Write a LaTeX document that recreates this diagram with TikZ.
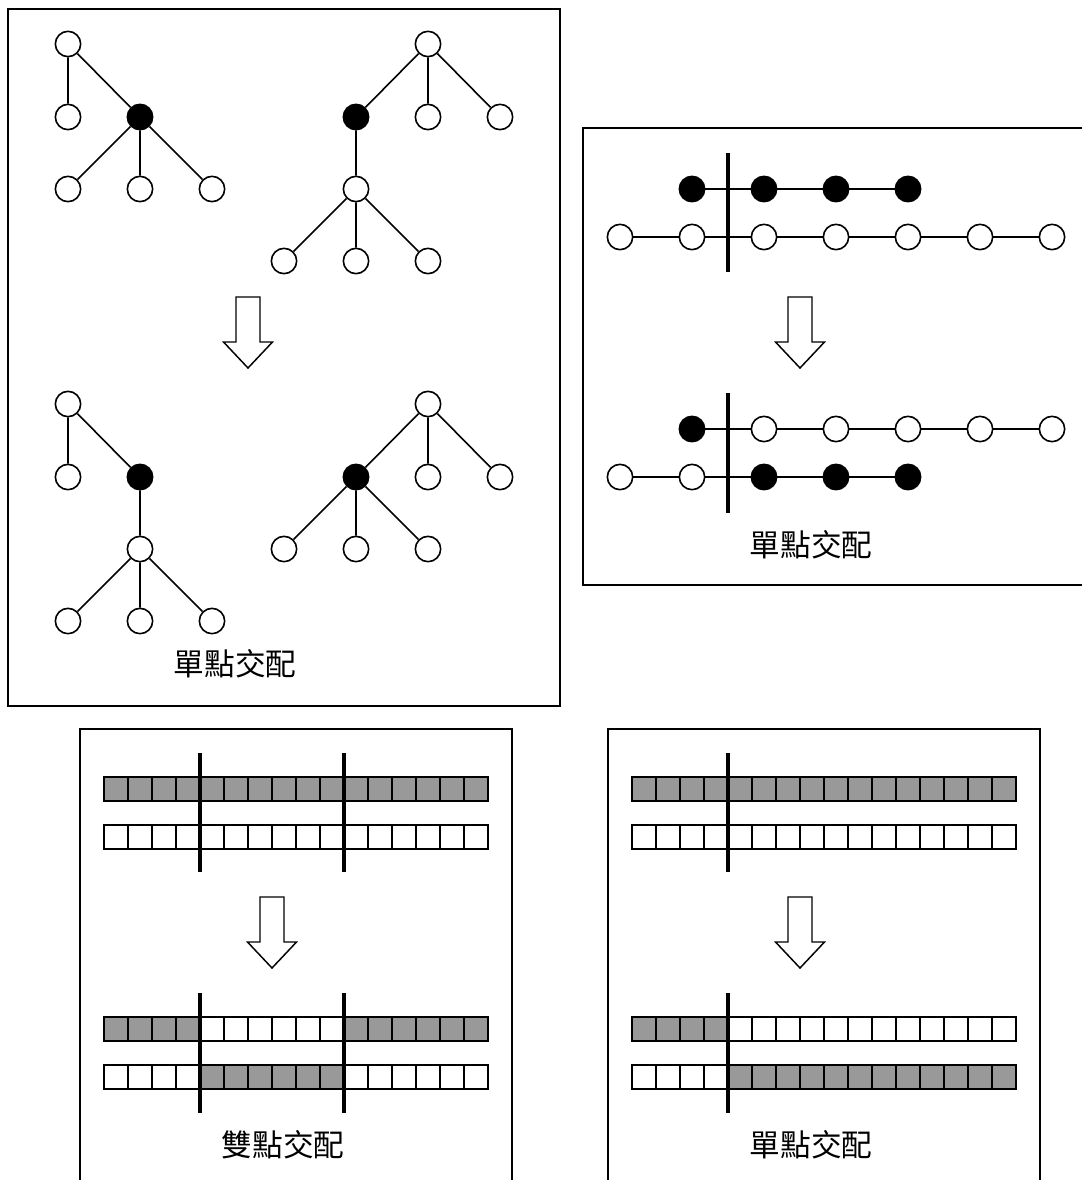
\documentclass[tikz,border=0pt]{standalone}
\usepackage{fontspec}
\newfontfamily\cjk{Noto Sans CJK TC}
\definecolor{cellgray}{HTML}{999999}
\tikzset{
  wn/.style={circle, draw, fill=white, minimum size=19pt, inner sep=0pt, line width=1.2pt},
  bn/.style={wn, fill=black},
  link/.style={line width=1.2pt},
  frame/.style={line width=1.2pt},
  cutline/.style={line width=2.3pt},
  cellline/.style={line width=1.1pt},
  thickdiv/.style={line width=2.1pt},
  thindiv/.style={line width=1pt},
  caption/.style={font=\cjk\fontsize{23}{23}\selectfont, inner sep=0pt},
  bigarrow/.pic={
    \draw[line width=1.1pt, fill=white, line join=miter]
      (-12,0) -- (12,0) -- (12,45) -- (24.5,45) -- (0,71) -- (-24.5,45) -- (-12,45) -- cycle;
  }
}
% one chromosome: 16 cells of 24 units, grey cells listed in #3 (0 = none)
\newcommand\chromrow[3]{%
  \foreach \i in {#3}{\ifnum\i>0 \fill[cellgray] ({#1+24*(\i-1)},#2) rectangle ++(24,24);\fi}
  \foreach \k in {1,3,...,15}{\draw[thickdiv] ({#1+24*\k},#2) -- ++(0,24);}
  \foreach \k in {2,4,...,14}{\draw[thindiv] ({#1+24*\k},#2) -- ++(0,24);}
  \draw[cellline] (#1,#2) rectangle ++(384,24);}
\begin{document}
\begin{tikzpicture}[x=0.75pt, y=-0.75pt]
\useasboundingbox (0,0) rectangle (1082,1180);

% ---------- panel 1: subtree crossover ----------
\draw[frame] (8,9) rectangle (560,706);
% parents
\node[wn] (t1a) at (68,44) {};
\node[wn] (t1b) at (68,117) {};
\node[bn] (t1c) at (140,117) {};
\node[wn] (t1d) at (68,189) {};
\node[wn] (t1e) at (140,189) {};
\node[wn] (t1f) at (212,189) {};
\draw[link] (t1a) -- (t1b) (t1a) -- (t1c) (t1c) -- (t1d) (t1c) -- (t1e) (t1c) -- (t1f);
\node[wn] (t2a) at (428,44) {};
\node[bn] (t2b) at (356,117) {};
\node[wn] (t2c) at (428,117) {};
\node[wn] (t2d) at (500,117) {};
\node[wn] (t2e) at (356,189) {};
\node[wn] (t2f) at (284,261) {};
\node[wn] (t2g) at (356,261) {};
\node[wn] (t2h) at (428,261) {};
\draw[link] (t2a) -- (t2b) (t2a) -- (t2c) (t2a) -- (t2d) (t2b) -- (t2e)
  (t2e) -- (t2f) (t2e) -- (t2g) (t2e) -- (t2h);
\pic at (248,297) {bigarrow};
% offspring
\node[wn] (t3a) at (68,404) {};
\node[wn] (t3b) at (68,477) {};
\node[bn] (t3c) at (140,477) {};
\node[wn] (t3d) at (140,549) {};
\node[wn] (t3e) at (68,621) {};
\node[wn] (t3f) at (140,621) {};
\node[wn] (t3g) at (212,621) {};
\draw[link] (t3a) -- (t3b) (t3a) -- (t3c) (t3c) -- (t3d)
  (t3d) -- (t3e) (t3d) -- (t3f) (t3d) -- (t3g);
\node[wn] (t4a) at (428,404) {};
\node[bn] (t4b) at (356,477) {};
\node[wn] (t4c) at (428,477) {};
\node[wn] (t4d) at (500,477) {};
\node[wn] (t4e) at (284,549) {};
\node[wn] (t4f) at (356,549) {};
\node[wn] (t4g) at (428,549) {};
\draw[link] (t4a) -- (t4b) (t4a) -- (t4c) (t4a) -- (t4d)
  (t4b) -- (t4e) (t4b) -- (t4f) (t4b) -- (t4g);
\node[caption] (cap1) at (235,664) {單點交配};

% ---------- panel 2: single-point crossover of node chains ----------
\draw[frame] (1082,128) -- (583,128) -- (583,585) -- (1082,585);
\foreach \n/\x in {1/692,2/764,3/836,4/908}{\node[bn] (pa\n) at (\x,189) {};}
\foreach \n/\x in {1/620,2/692,3/764,4/836,5/908,6/980,7/1052}{\node[wn] (pb\n) at (\x,237) {};}
\draw[link] (pa1) -- (pa2) -- (pa3) -- (pa4);
\draw[link] (pb1) -- (pb2) -- (pb3) -- (pb4) -- (pb5) -- (pb6) -- (pb7);
\coordinate (cut1t) at (728,153); \coordinate (cut1b) at (728,272);
\draw[cutline] (cut1t) -- (cut1b);
\pic at (800,297) {bigarrow};
\node[bn] (oa1) at (692,429) {};
\foreach \n/\x in {2/764,3/836,4/908,5/980,6/1052}{\node[wn] (oa\n) at (\x,429) {};}
\foreach \n/\x in {1/620,2/692}{\node[wn] (ob\n) at (\x,477) {};}
\foreach \n/\x in {3/764,4/836,5/908}{\node[bn] (ob\n) at (\x,477) {};}
\draw[link] (oa1) -- (oa2) -- (oa3) -- (oa4) -- (oa5) -- (oa6);
\draw[link] (ob1) -- (ob2) -- (ob3) -- (ob4) -- (ob5);
\coordinate (cut2t) at (728,393); \coordinate (cut2b) at (728,513);
\draw[cutline] (cut2t) -- (cut2b);
\node[caption] (cap2) at (811,545) {單點交配};

% ---------- panel 3: two-point crossover ----------
\draw[frame] (80,1181) -- (80,729) -- (512,729) -- (512,1181);
\chromrow{104}{777}{1,...,16}
\chromrow{104}{825}{0}
\draw[cutline] (200,753) -- (200,872);
\draw[cutline] (344,753) -- (344,872);
\pic at (272,897) {bigarrow};
\chromrow{104}{1017}{1,2,3,4,11,12,13,14,15,16}
\chromrow{104}{1065}{5,6,7,8,9,10}
\draw[cutline] (200,993) -- (200,1113);
\draw[cutline] (344,993) -- (344,1113);
\node[caption] (cap3) at (283,1145) {雙點交配};

% ---------- panel 4: single-point crossover ----------
\draw[frame] (608,1181) -- (608,729) -- (1040,729) -- (1040,1181);
\chromrow{632}{777}{1,...,16}
\chromrow{632}{825}{0}
\draw[cutline] (728,753) -- (728,872);
\pic at (800,897) {bigarrow};
\chromrow{632}{1017}{1,2,3,4}
\chromrow{632}{1065}{5,...,16}
\draw[cutline] (728,993) -- (728,1113);
\node[caption] (cap4) at (811,1145) {單點交配};
\end{tikzpicture}
\end{document}
